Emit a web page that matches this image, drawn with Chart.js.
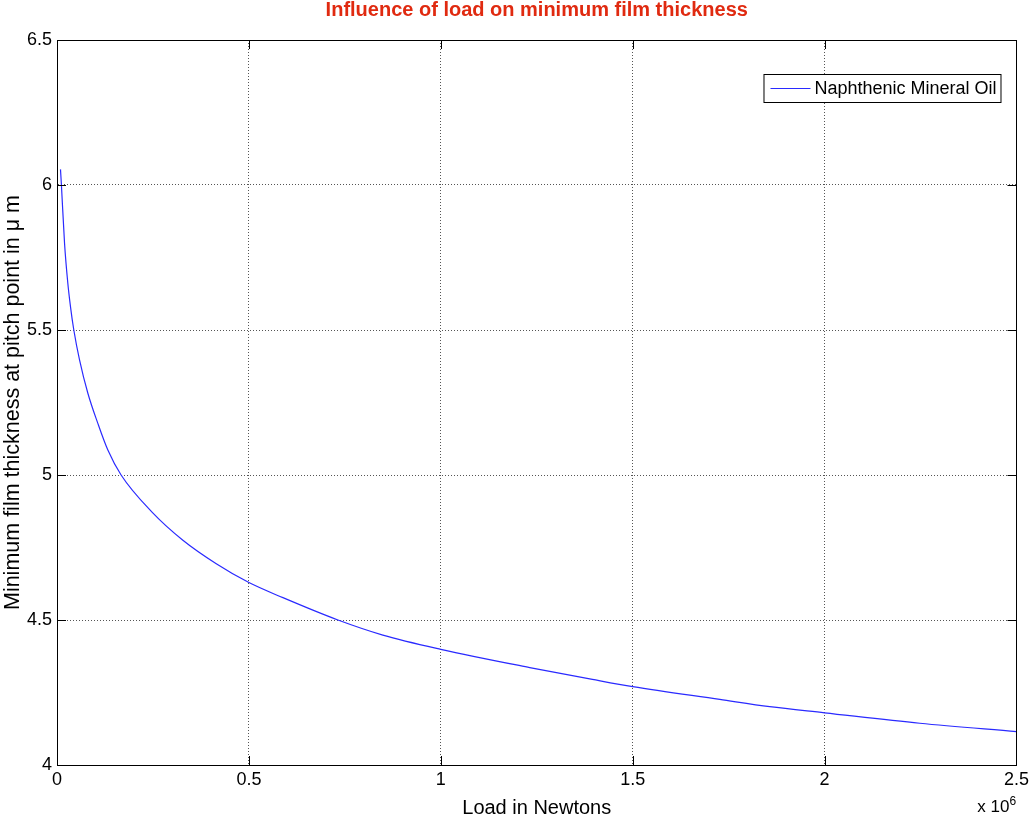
<!DOCTYPE html>
<html>
<head>
<meta charset="utf-8">
<script src="https://cdn.jsdelivr.net/npm/chart.js@4.4.1/dist/chart.umd.min.js"></script>
<style>
  body { margin: 0; background: #fff; }
  #wrap { width: 1033px; height: 820px; }
</style>
</head>
<body>
<div id="wrap"><canvas id="filmChart" width="1033" height="820"></canvas></div>
<script>
// load in units of 10^6 N, film thickness in micrometres
const loadMN = [0.0091, 0.0115, 0.0196, 0.0282, 0.0352, 0.0438, 0.0587, 0.0804, 0.1064, 0.1325,
  0.167, 0.2476, 0.328, 0.415, 0.5, 0.5887, 0.732, 0.849, 1.0,
  1.2318, 1.395, 1.5, 1.727, 1.857, 2.0, 2.248, 2.5];
const filmThickness = [6.054, 6.0, 5.8, 5.661, 5.58, 5.5, 5.397, 5.282, 5.178, 5.086,
  5.0, 4.872, 4.775, 4.694, 4.629, 4.577, 4.5, 4.448, 4.399,
  4.336, 4.295, 4.27, 4.226, 4.201, 4.18, 4.144, 4.115];
const xTicks = [0, 0.5, 1, 1.5, 2, 2.5];
const yTicks = [4, 4.5, 5, 5.5, 6, 6.5];

const seriesName = 'Naphthenic Mineral Oil';
const FONT = 'Liberation Sans, Arial, Helvetica, sans-serif';

// box, inward ticks, exponent label and legend
const matlabAxes = {
  id: 'matlabAxes',
  afterDraw(chart) {
    const { ctx, chartArea: a, scales } = chart;
    const tl = 9;
    ctx.save();
    ctx.strokeStyle = '#000';
    ctx.lineWidth = 1;
    ctx.beginPath();
    xTicks.forEach(v => {
      const x = Math.round(scales.x.getPixelForValue(v)) + 0.5;
      ctx.moveTo(x, a.bottom); ctx.lineTo(x, a.bottom - tl);
      ctx.moveTo(x, a.top); ctx.lineTo(x, a.top + tl);
    });
    yTicks.forEach(v => {
      const y = Math.round(scales.y.getPixelForValue(v)) + 0.5;
      ctx.moveTo(a.left, y); ctx.lineTo(a.left + tl, y);
      ctx.moveTo(a.right, y); ctx.lineTo(a.right - tl, y);
    });
    ctx.stroke();
    ctx.strokeRect(Math.round(a.left) + 0.5, Math.round(a.top) + 0.5,
      Math.round(a.right - a.left), Math.round(a.bottom - a.top));

    // x 10^6
    ctx.fillStyle = '#000';
    ctx.textBaseline = 'alphabetic';
    ctx.textAlign = 'right';
    ctx.font = '17px ' + FONT;
    ctx.fillText('x 10', a.right - 7, 812);
    ctx.textAlign = 'left';
    ctx.font = '12px ' + FONT;
    ctx.fillText('6', a.right - 7, 805);

    // legend
    const ds = chart.data.datasets[0];
    const bx = a.right - 253, by = a.top + 34, bw = 237, bh = 28;
    ctx.fillStyle = '#fff';
    ctx.fillRect(bx, by, bw, bh);
    ctx.strokeStyle = '#000';
    ctx.strokeRect(bx + 0.5, by + 0.5, bw, bh);
    ctx.strokeStyle = ds.borderColor;
    ctx.lineWidth = ds.borderWidth;
    ctx.beginPath();
    ctx.moveTo(bx + 7, by + 14.5); ctx.lineTo(bx + 47, by + 14.5);
    ctx.stroke();
    ctx.fillStyle = '#000';
    ctx.font = '18px ' + FONT;
    ctx.textBaseline = 'middle';
    ctx.fillText(ds.label, bx + 51, by + 15);
    ctx.restore();
  }
};

const ctx = document.getElementById('filmChart').getContext('2d');
new Chart(ctx, {
  type: 'line',
  data: {
    datasets: [{
      label: seriesName,
      data: loadMN.map((x, i) => ({ x: x, y: filmThickness[i] })),
      borderColor: '#2a2aff',
      borderWidth: 1.2,
      pointRadius: 0,
      cubicInterpolationMode: 'monotone',
      fill: false
    }]
  },
  options: {
    responsive: false,
    animation: false,
    layout: { padding: { top: 0, right: 15, left: 0, bottom: 0 } },
    plugins: {
      legend: { display: false },
      tooltip: { enabled: false },
      title: {
        display: true,
        fullSize: false,
        text: 'Influence of load on minimum film thickness',
        color: '#e02a10',
        font: { family: FONT, size: 20, weight: 'bold', lineHeight: 1 },
        padding: { top: 0, bottom: 20 }
      }
    },
    scales: {
      x: {
        type: 'linear',
        min: 0,
        max: 2.5,
        afterBuildTicks: s => { s.ticks = xTicks.map(v => ({ value: v })); },
        afterFit: s => { s.height = 55; },
        ticks: { color: '#000', font: { family: FONT, size: 18 }, padding: 4, maxRotation: 0,
          callback: v => String(v) },
        grid: { color: '#555', drawTicks: false },
        border: { color: '#000', dash: [1, 2] },
        title: {
          display: true,
          text: 'Load in Newtons',
          color: '#000',
          font: { family: FONT, size: 20 },
          padding: { top: 4, bottom: 0 }
        }
      },
      y: {
        min: 4,
        max: 6.5,
        afterBuildTicks: s => { s.ticks = yTicks.map(v => ({ value: v })); },
        afterFit: s => { s.width = 57; },
        ticks: { color: '#000', font: { family: FONT, size: 18 }, padding: 5,
          callback: v => String(v) },
        grid: { color: '#555', drawTicks: false },
        border: { color: '#000', dash: [1, 2] },
        title: {
          display: true,
          text: 'Minimum film thickness at pitch point in \u03bc m',
          color: '#000',
          font: { family: FONT, size: 21.5 },
          padding: { top: 0, bottom: 0 }
        }
      }
    }
  },
  plugins: [matlabAxes]
});
</script>
</body>
</html>
